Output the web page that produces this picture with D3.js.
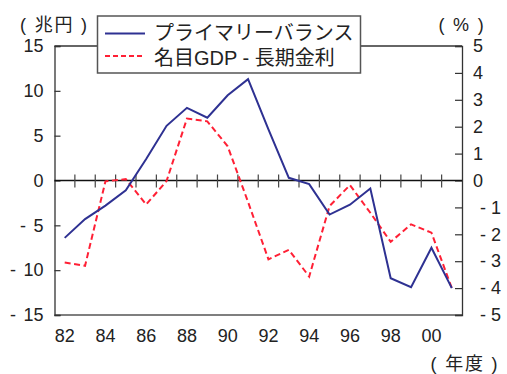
<!DOCTYPE html>
<html>
<head>
<meta charset="utf-8">
<script src="https://cdn.jsdelivr.net/npm/d3@7"></script>
<style>
  html, body { margin: 0; padding: 0; background: #fff; }
  svg { display: block; }
  text { font-family: "Liberation Sans", Arial, "Noto Sans CJK JP", sans-serif; fill: #222; }
</style>
</head>
<body>
<svg id="chart" width="507" height="374"></svg>
<script>
// Fiscal years (1982–2001)
const years = ["82","83","84","85","86","87","88","89","90","91","92","93","94","95","96","97","98","99","00","01"];
// Primary balance, trillion yen (left axis)
const primaryBalance = [-6.4, -4.3, -2.8, -1.1, 2.4, 6.1, 8.1, 7.0, 9.5, 11.3, 5.7, 0.3, -0.4, -3.8, -2.7, -0.9, -10.9, -11.9, -7.5, -12.0];
// Nominal GDP growth minus long-term interest rate, % (right axis)
const gdpMinusRate = [-3.05, -3.17, -0.03, 0.05, -0.89, -0.02, 2.3, 2.2, 1.27, -0.8, -2.93, -2.58, -3.57, -0.95, -0.17, -1.2, -2.28, -1.63, -1.94, -4.0];
// Axis ticks
const leftTicks = [15, 10, 5, 0, -5, -10, -15];
const rightTicks = [5, 4, 3, 2, 1, 0, -1, -2, -3, -4, -5];
const labelYears = ["82","84","86","88","90","92","94","96","98","00"];
const legendLabels = ["プライマリーバランス", "名目GDP - 長期金利"];

const BLUE = "#2e3192";
const RED = "#ff2035";
const FRAME = "#333";

const svg = d3.select("#chart");
const L = 54.5, R = 462, T = 46, B = 315;

const x = d3.scaleBand().domain(years).range([L, R]).padding(0);
const yL = d3.scaleLinear().domain([-15, 15]).range([B, T]);
const yR = d3.scaleLinear().domain([-5, 5]).range([B, T]);
const cx = d => x(d) + x.bandwidth() / 2;

// Plot frame
svg.append("line").attr("x1", L).attr("x2", R).attr("y1", T).attr("y2", T)
  .attr("stroke", FRAME).attr("stroke-width", 1.3);
svg.append("line").attr("x1", L).attr("x2", R).attr("y1", B).attr("y2", B)
  .attr("stroke", "#555").attr("stroke-width", 1.5);

// Left axis
const axL = svg.append("g").attr("transform", `translate(${L},0)`)
  .call(d3.axisLeft(yL).tickValues(leftTicks).tickSize(-6).tickPadding(11)
    .tickFormat(d => d < 0 ? "- " + (-d) : String(d)));
axL.select(".domain").attr("stroke", FRAME).attr("stroke-width", 1.3);
axL.selectAll(".tick line").attr("stroke", FRAME).attr("stroke-width", 1.2);
axL.selectAll(".tick text").attr("font-size", 18).attr("fill", "#222")
  .attr("font-family", "Liberation Sans, Arial, sans-serif")
  .each(function(d) {
    if (d < 0) {
      const t = d3.select(this);
      t.text(null);
      t.append("tspan").text("-");
      t.append("tspan").attr("dx", 2.5).text(" " + (-d));
    }
  });

// Right axis
const axR = svg.append("g").attr("transform", `translate(${R},0)`)
  .call(d3.axisRight(yR).tickValues(rightTicks).tickSize(-7).tickPadding(11)
    .tickFormat(d => d < 0 ? "- " + (-d) : String(d)));
axR.select(".domain").attr("stroke", FRAME).attr("stroke-width", 1.3);
axR.selectAll(".tick line").attr("stroke", FRAME).attr("stroke-width", 1.2);
axR.selectAll(".tick text").attr("font-size", 18).attr("fill", "#222")
  .attr("font-family", "Liberation Sans, Arial, sans-serif")
  .attr("dx", d => d < 0 ? 7 : 0);

// Bottom year labels
const axB = svg.append("g").attr("transform", `translate(0,${B})`)
  .call(d3.axisBottom(x).tickValues(labelYears).tickSize(0).tickPadding(14));
axB.select(".domain").remove();
axB.selectAll(".tick text").attr("font-size", 18).attr("fill", "#222")
  .attr("font-family", "Liberation Sans, Arial, sans-serif");

// Zero line with year separators
svg.append("line").attr("x1", L).attr("x2", R).attr("y1", yL(0)).attr("y2", yL(0))
  .attr("stroke", "#111").attr("stroke-width", 1.3);
svg.append("g").selectAll("line").data(years.slice(1)).join("line")
  .attr("x1", d => x(d)).attr("x2", d => x(d))
  .attr("y1", yL(0) - 6).attr("y2", yL(0) + 7)
  .attr("stroke", "#444").attr("stroke-width", 1.2);

// Series
const lineL = d3.line().x((d, i) => cx(years[i])).y(d => yL(d));
const lineR = d3.line().x((d, i) => cx(years[i])).y(d => yR(d));

svg.append("path").datum(gdpMinusRate).attr("d", lineR)
  .attr("fill", "none").attr("stroke", RED).attr("stroke-width", 2)
  .attr("stroke-dasharray", "6,3.5");
svg.append("path").datum(primaryBalance).attr("d", lineL)
  .attr("fill", "none").attr("stroke", BLUE).attr("stroke-width", 2);

// Unit labels
svg.append("text").attr("x", 54.5).attr("y", 31).attr("text-anchor", "middle")
  .attr("font-size", 18).attr("letter-spacing", 1.8)
  .attr("font-family", "Liberation Sans, Noto Sans CJK JP, sans-serif")
  .text("( 兆円 )");
svg.append("text").attr("x", 462).attr("y", 31).attr("text-anchor", "middle")
  .attr("font-size", 18).attr("letter-spacing", 1.8)
  .attr("font-family", "Liberation Sans, Noto Sans CJK JP, sans-serif")
  .text("( % )");
svg.append("text").attr("x", 465).attr("y", 370).attr("text-anchor", "middle")
  .attr("font-size", 18).attr("letter-spacing", 1.8)
  .attr("font-family", "Liberation Sans, Noto Sans CJK JP, sans-serif")
  .text("( 年度 )");

// Legend
const lg = svg.append("g");
lg.append("rect").attr("x", 97.5).attr("y", 16).attr("width", 263).attr("height", 57)
  .attr("fill", "#fff").attr("stroke", "#555").attr("stroke-width", 1.5);
lg.append("line").attr("x1", 105).attr("x2", 145).attr("y1", 33.5).attr("y2", 33.5)
  .attr("stroke", BLUE).attr("stroke-width", 2);
lg.append("line").attr("x1", 105).attr("x2", 145).attr("y1", 56).attr("y2", 56)
  .attr("stroke", RED).attr("stroke-width", 2).attr("stroke-dasharray", "5,3");
lg.selectAll("text.lab").data(legendLabels).join("text").attr("class", "lab")
  .attr("x", 154).attr("y", (d, i) => 40 + i * 25)
  .attr("font-size", 20)
  .attr("font-family", "Liberation Sans, Noto Sans CJK JP, sans-serif")
  .text(d => d);
</script>
</body>
</html>
